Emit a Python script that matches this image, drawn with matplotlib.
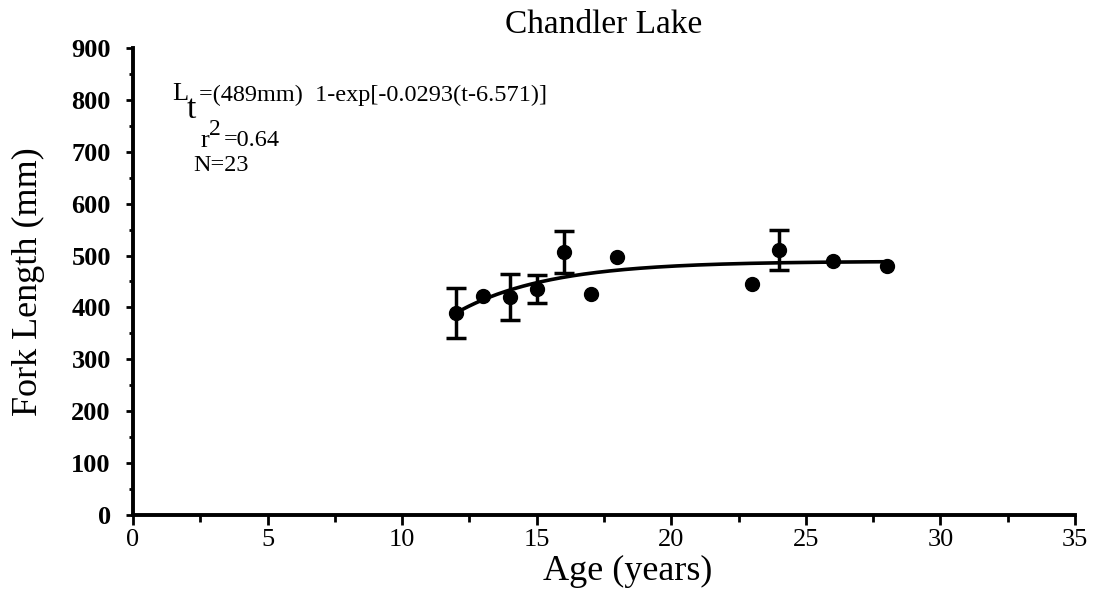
import numpy as np
import matplotlib.pyplot as plt
from matplotlib.ticker import MultipleLocator

# mean fork length by age, Chandler Lake
age = [12, 13, 14, 15, 16, 17, 18, 23, 24, 26, 28]
fork_length = [390, 422, 420, 435, 507, 426, 497, 445, 511, 489, 480]
err = [48, 0, 44, 27, 40, 0, 0, 0, 38, 0, 0]

# von Bertalanffy fit
linf = 489
k = 0.293
t0 = 6.571
fit_age = np.linspace(12, 28, 200)
fit_len = linf * (1 - np.exp(-k * (fit_age - t0)))

plt.rcParams['font.family'] = ['Liberation Serif', 'DejaVu Serif']

fig = plt.figure(figsize=(10.95, 5.96), dpi=100)
ax = fig.add_axes([0.1215, 0.1359, 0.8602, 0.7836])

ax.plot(fit_age, fit_len, color='black', lw=2.6, zorder=2)
has_err = [e > 0 for e in err]
ax.errorbar([a for a, h in zip(age, has_err) if h],
            [v for v, h in zip(fork_length, has_err) if h],
            yerr=[e for e in err if e > 0], fmt='none', ecolor='black',
            elinewidth=2.5, capsize=7, capthick=2.5, zorder=3)
ax.plot(age, fork_length, 'o', color='black', ms=10, zorder=4)

ax.set_xlim(0, 35)
ax.set_ylim(0, 900)
ax.xaxis.set_major_locator(MultipleLocator(5))
ax.xaxis.set_minor_locator(MultipleLocator(2.5))
ax.yaxis.set_major_locator(MultipleLocator(100))
ax.yaxis.set_minor_locator(MultipleLocator(50))
for s in ['top', 'right']:
    ax.spines[s].set_visible(False)
for s in ['left', 'bottom']:
    ax.spines[s].set_linewidth(2.8)
ax.tick_params(axis='x', which='major', direction='out', width=2, length=7,
               labelsize=19, pad=3)
ax.tick_params(axis='x', which='minor', direction='out', width=2, length=5)
ax.tick_params(axis='y', which='major', direction='out', width=2, length=5,
               labelsize=19, pad=11)
ax.tick_params(axis='y', which='minor', direction='out', width=2, length=3)
for lbl in ax.get_yticklabels():
    lbl.set_fontweight('bold')

ax.set_xlabel('Age (years)', fontsize=26, labelpad=4)
ax.xaxis.set_label_coords(0.525, -0.085)
ax.set_ylabel('Fork Length (mm)', fontsize=26, labelpad=19)
ax.set_title('Chandler Lake', fontsize=24, pad=11)

# fitted equation and fit statistics
ax.text(1.45, 811, 'L', fontsize=19, va='center')
ax.text(2.0, 781, 't', fontsize=24, va='center')
ax.text(2.45, 809, '=(489mm)  1-exp[-0.0293(t-6.571)]', fontsize=17.5, va='center')
ax.text(2.49, 720, 'r', fontsize=19, va='center')
ax.text(2.84, 742, '2', fontsize=17, va='center')
ax.text(3.36, 722, '=0.64', fontsize=17.5, va='center')
ax.text(2.25, 674, 'N=23', fontsize=17.5, va='center')

fig.savefig('out.png', dpi=100)
